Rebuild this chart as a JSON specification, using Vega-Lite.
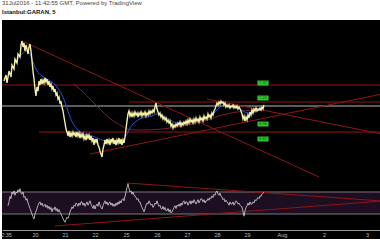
{
  "$schema": "https://vega.github.io/schema/vega-lite/v6.json",
  "background": "white",
  "padding": 0,
  "spacing": 0,
  "title": {
    "text": "31Jul2016 - 11:42:55 GMT, Powered by TradingView",
    "subtitle": "Istanbul:GARAN, 5",
    "anchor": "start",
    "frame": "group",
    "font": "Liberation Sans",
    "fontSize": 6,
    "fontWeight": "normal",
    "color": "#444444",
    "subtitleFont": "Liberation Sans",
    "subtitleFontSize": 6,
    "subtitleFontWeight": "bold",
    "subtitleColor": "#111111",
    "subtitlePadding": 3,
    "offset": 6,
    "dy": 1
  },
  "config": {
    "view": {"stroke": null, "fill": "#000000"},
    "axis": {"grid": false, "ticks": false, "title": null}
  },
  "datasets": {
    "price": [{"t":2,"p":7.39},{"t":4,"p":7.45},{"t":5,"p":7.37},{"t":7,"p":7.49},{"t":9,"p":7.43},{"t":10,"p":7.55},{"t":12,"p":7.51},{"t":13,"p":7.61},{"t":15,"p":7.57},{"t":16,"p":7.66},{"t":18,"p":7.63},{"t":19,"p":7.75},{"t":20,"p":7.79},{"t":21,"p":7.73},{"t":22,"p":7.77},{"t":23,"p":7.69},{"t":24,"p":7.75},{"t":25,"p":7.71},{"t":26,"p":7.66},{"t":27,"p":7.73},{"t":28,"p":7.76},{"t":29,"p":7.69},{"t":30,"p":7.59},{"t":31,"p":7.49},{"t":32,"p":7.41},{"t":33,"p":7.31},{"t":34,"p":7.24},{"t":35,"p":7.33},{"t":36,"p":7.29},{"t":37,"p":7.39},{"t":38,"p":7.35},{"t":39,"p":7.41},{"t":40,"p":7.36},{"t":41,"p":7.40},{"t":42,"p":7.37},{"t":43,"p":7.42},{"t":44,"p":7.38},{"t":45,"p":7.41},{"t":46,"p":7.35},{"t":47,"p":7.39},{"t":48,"p":7.33},{"t":49,"p":7.36},{"t":50,"p":7.31},{"t":51,"p":7.34},{"t":52,"p":7.28},{"t":53,"p":7.31},{"t":54,"p":7.25},{"t":55,"p":7.27},{"t":56,"p":7.21},{"t":57,"p":7.23},{"t":58,"p":7.17},{"t":59,"p":7.18},{"t":60,"p":7.13},{"t":61,"p":7.09},{"t":62,"p":7.03},{"t":63,"p":6.97},{"t":64,"p":6.91},{"t":65,"p":6.88},{"t":66,"p":6.84},{"t":67,"p":6.89},{"t":68,"p":6.83},{"t":69,"p":6.87},{"t":70,"p":6.84},{"t":71,"p":6.88},{"t":72,"p":6.85},{"t":73,"p":6.87},{"t":74,"p":6.83},{"t":75,"p":6.88},{"t":76,"p":6.84},{"t":77,"p":6.87},{"t":78,"p":6.82},{"t":79,"p":6.86},{"t":80,"p":6.83},{"t":81,"p":6.86},{"t":82,"p":6.81},{"t":83,"p":6.84},{"t":84,"p":6.80},{"t":85,"p":6.85},{"t":86,"p":6.82},{"t":87,"p":6.85},{"t":88,"p":6.80},{"t":89,"p":6.84},{"t":90,"p":6.79},{"t":91,"p":6.82},{"t":92,"p":6.75},{"t":93,"p":6.81},{"t":94,"p":6.78},{"t":95,"p":6.81},{"t":96,"p":6.75},{"t":97,"p":6.73},{"t":98,"p":6.69},{"t":99,"p":6.66},{"t":100,"p":6.63},{"t":101,"p":6.71},{"t":102,"p":6.75},{"t":103,"p":6.80},{"t":104,"p":6.76},{"t":105,"p":6.81},{"t":106,"p":6.77},{"t":107,"p":6.80},{"t":108,"p":6.75},{"t":109,"p":6.81},{"t":110,"p":6.78},{"t":111,"p":6.82},{"t":112,"p":6.76},{"t":113,"p":6.80},{"t":114,"p":6.75},{"t":115,"p":6.80},{"t":116,"p":6.77},{"t":117,"p":6.82},{"t":118,"p":6.76},{"t":119,"p":6.81},{"t":120,"p":6.75},{"t":121,"p":6.80},{"t":122,"p":6.77},{"t":123,"p":6.83},{"t":124,"p":6.91},{"t":125,"p":6.99},{"t":126,"p":7.06},{"t":127,"p":7.09},{"t":128,"p":7.04},{"t":129,"p":7.07},{"t":130,"p":7.03},{"t":131,"p":7.07},{"t":132,"p":7.04},{"t":133,"p":7.08},{"t":134,"p":7.05},{"t":135,"p":7.07},{"t":136,"p":7.03},{"t":137,"p":7.07},{"t":138,"p":7.05},{"t":139,"p":7.08},{"t":140,"p":7.04},{"t":141,"p":7.07},{"t":142,"p":7.05},{"t":143,"p":7.08},{"t":144,"p":7.04},{"t":145,"p":7.07},{"t":146,"p":7.05},{"t":147,"p":7.09},{"t":148,"p":7.06},{"t":149,"p":7.09},{"t":150,"p":7.07},{"t":151,"p":7.10},{"t":152,"p":7.08},{"t":153,"p":7.13},{"t":154,"p":7.17},{"t":155,"p":7.11},{"t":156,"p":7.08},{"t":157,"p":7.05},{"t":158,"p":7.07},{"t":159,"p":7.03},{"t":160,"p":7.05},{"t":161,"p":7.01},{"t":162,"p":7.03},{"t":163,"p":7.00},{"t":164,"p":7.02},{"t":165,"p":6.98},{"t":166,"p":7.00},{"t":167,"p":6.97},{"t":168,"p":6.99},{"t":169,"p":6.94},{"t":170,"p":6.96},{"t":171,"p":6.92},{"t":172,"p":6.95},{"t":173,"p":6.93},{"t":174,"p":6.96},{"t":175,"p":6.94},{"t":176,"p":6.97},{"t":177,"p":6.95},{"t":178,"p":6.98},{"t":179,"p":6.94},{"t":180,"p":6.97},{"t":181,"p":6.95},{"t":182,"p":6.98},{"t":183,"p":6.96},{"t":184,"p":6.99},{"t":185,"p":6.96},{"t":186,"p":7.00},{"t":187,"p":6.97},{"t":188,"p":7.01},{"t":189,"p":6.98},{"t":190,"p":7.00},{"t":191,"p":6.97},{"t":192,"p":7.01},{"t":193,"p":6.98},{"t":194,"p":7.02},{"t":195,"p":6.99},{"t":196,"p":7.01},{"t":197,"p":6.98},{"t":198,"p":7.03},{"t":199,"p":7.00},{"t":200,"p":7.02},{"t":201,"p":6.99},{"t":202,"p":7.04},{"t":203,"p":7.01},{"t":204,"p":7.03},{"t":205,"p":7.01},{"t":206,"p":7.06},{"t":207,"p":7.03},{"t":208,"p":7.05},{"t":209,"p":7.02},{"t":210,"p":7.07},{"t":211,"p":7.05},{"t":212,"p":7.09},{"t":213,"p":7.11},{"t":214,"p":7.14},{"t":215,"p":7.17},{"t":216,"p":7.15},{"t":217,"p":7.18},{"t":218,"p":7.16},{"t":219,"p":7.19},{"t":220,"p":7.17},{"t":221,"p":7.18},{"t":222,"p":7.15},{"t":223,"p":7.17},{"t":224,"p":7.13},{"t":225,"p":7.15},{"t":226,"p":7.13},{"t":227,"p":7.15},{"t":228,"p":7.12},{"t":229,"p":7.14},{"t":230,"p":7.13},{"t":231,"p":7.15},{"t":232,"p":7.12},{"t":233,"p":7.14},{"t":234,"p":7.12},{"t":235,"p":7.14},{"t":236,"p":7.11},{"t":237,"p":7.13},{"t":238,"p":7.11},{"t":239,"p":7.09},{"t":240,"p":7.06},{"t":241,"p":7.01},{"t":242,"p":7.04},{"t":243,"p":6.99},{"t":244,"p":7.03},{"t":245,"p":7.00},{"t":246,"p":7.05},{"t":247,"p":7.02},{"t":248,"p":7.08},{"t":249,"p":7.05},{"t":250,"p":7.10},{"t":251,"p":7.07},{"t":252,"p":7.11},{"t":253,"p":7.09},{"t":254,"p":7.12},{"t":255,"p":7.09},{"t":256,"p":7.11},{"t":257,"p":7.10},{"t":258,"p":7.12},{"t":259,"p":7.10},{"t":260,"p":7.13},{"t":261,"p":7.11},{"t":262,"p":7.15}],
    "ma": [{"t":12,"p":7.55},{"t":16,"p":7.61},{"t":20,"p":7.66},{"t":25,"p":7.69},{"t":28,"p":7.66},{"t":31,"p":7.58},{"t":35,"p":7.49},{"t":40,"p":7.44},{"t":45,"p":7.41},{"t":50,"p":7.38},{"t":55,"p":7.33},{"t":60,"p":7.25},{"t":64,"p":7.15},{"t":68,"p":7.03},{"t":72,"p":6.95},{"t":76,"p":6.90},{"t":80,"p":6.87},{"t":85,"p":6.85},{"t":90,"p":6.84},{"t":95,"p":6.82},{"t":100,"p":6.80},{"t":105,"p":6.79},{"t":110,"p":6.79},{"t":115,"p":6.79},{"t":120,"p":6.80},{"t":124,"p":6.84},{"t":128,"p":6.92},{"t":132,"p":6.97},{"t":136,"p":7.00},{"t":140,"p":7.02},{"t":145,"p":7.03},{"t":150,"p":7.04},{"t":155,"p":7.06},{"t":160,"p":7.05},{"t":165,"p":7.02},{"t":170,"p":6.99},{"t":175,"p":6.97},{"t":180,"p":6.97},{"t":185,"p":6.98},{"t":190,"p":6.99},{"t":195,"p":7.00},{"t":200,"p":7.01},{"t":205,"p":7.02},{"t":210,"p":7.05},{"t":214,"p":7.09},{"t":218,"p":7.13},{"t":222,"p":7.15},{"t":226,"p":7.15},{"t":230,"p":7.14},{"t":235,"p":7.13},{"t":240,"p":7.10},{"t":245,"p":7.07},{"t":250,"p":7.07},{"t":255,"p":7.09},{"t":260,"p":7.10}],
    "ma2": [{"t":72,"p":7.36},{"t":80,"p":7.29},{"t":90,"p":7.19},{"t":100,"p":7.09},{"t":110,"p":7.00},{"t":120,"p":6.94},{"t":125,"p":6.91},{"t":135,"p":6.90},{"t":145,"p":6.90},{"t":160,"p":6.91},{"t":175,"p":6.93},{"t":190,"p":6.96},{"t":205,"p":7.00},{"t":220,"p":7.05},{"t":235,"p":7.08},{"t":250,"p":7.10},{"t":260,"p":7.11}],
    "redlines": [{"t":0,"p":7.35,"t2":380,"p2":7.35},{"t":127,"p":7.18,"t2":380,"p2":7.18},{"t":37,"p":6.88,"t2":380,"p2":6.88},{"t":20,"p":7.79,"t2":317,"p2":6.43},{"t":88,"p":6.66,"t2":380,"p2":7.26},{"t":205,"p":7.21,"t2":380,"p2":6.86}],
    "greyline": [{"t":0,"p":7.14,"t2":380,"p2":7.14}],
    "levels": [{"t":261,"p":7.37,"label":"7.37"},{"t":261,"p":7.22,"label":"7.22"},{"t":261,"p":6.96,"label":"6.96"},{"t":261,"p":6.81,"label":"6.81"}],
    "rsi": [{"t":6,"r":45},{"t":7,"r":52},{"t":8,"r":62},{"t":9,"r":58},{"t":10,"r":70},{"t":11,"r":66},{"t":12,"r":72},{"t":13,"r":64},{"t":14,"r":70},{"t":15,"r":68},{"t":16,"r":74},{"t":17,"r":70},{"t":18,"r":76},{"t":19,"r":68},{"t":20,"r":66},{"t":21,"r":70},{"t":22,"r":60},{"t":23,"r":62},{"t":24,"r":55},{"t":25,"r":58},{"t":26,"r":50},{"t":27,"r":45},{"t":28,"r":40},{"t":29,"r":35},{"t":30,"r":30},{"t":31,"r":25},{"t":32,"r":21},{"t":33,"r":30},{"t":34,"r":35},{"t":35,"r":40},{"t":36,"r":46},{"t":37,"r":50},{"t":38,"r":52},{"t":39,"r":46},{"t":40,"r":50},{"t":41,"r":44},{"t":42,"r":45},{"t":43,"r":48},{"t":44,"r":42},{"t":45,"r":46},{"t":46,"r":40},{"t":47,"r":44},{"t":48,"r":38},{"t":49,"r":42},{"t":50,"r":34},{"t":51,"r":40},{"t":52,"r":38},{"t":53,"r":43},{"t":54,"r":36},{"t":55,"r":40},{"t":56,"r":34},{"t":57,"r":38},{"t":58,"r":33},{"t":59,"r":30},{"t":60,"r":26},{"t":61,"r":22},{"t":62,"r":18},{"t":63,"r":15},{"t":64,"r":20},{"t":65,"r":24},{"t":66,"r":22},{"t":67,"r":27},{"t":68,"r":34},{"t":69,"r":38},{"t":70,"r":43},{"t":71,"r":40},{"t":72,"r":46},{"t":73,"r":44},{"t":74,"r":50},{"t":75,"r":48},{"t":76,"r":44},{"t":77,"r":50},{"t":78,"r":46},{"t":79,"r":52},{"t":80,"r":52},{"t":81,"r":46},{"t":82,"r":50},{"t":83,"r":44},{"t":84,"r":48},{"t":85,"r":52},{"t":86,"r":46},{"t":87,"r":50},{"t":88,"r":54},{"t":89,"r":48},{"t":90,"r":44},{"t":91,"r":40},{"t":92,"r":46},{"t":93,"r":39},{"t":94,"r":45},{"t":95,"r":48},{"t":96,"r":44},{"t":97,"r":52},{"t":98,"r":46},{"t":99,"r":42},{"t":100,"r":39},{"t":101,"r":45},{"t":102,"r":50},{"t":103,"r":54},{"t":104,"r":48},{"t":105,"r":52},{"t":106,"r":46},{"t":107,"r":50},{"t":108,"r":52},{"t":109,"r":46},{"t":110,"r":50},{"t":111,"r":44},{"t":112,"r":48},{"t":113,"r":44},{"t":114,"r":50},{"t":115,"r":46},{"t":116,"r":52},{"t":117,"r":48},{"t":118,"r":54},{"t":119,"r":50},{"t":120,"r":56},{"t":121,"r":58},{"t":122,"r":54},{"t":123,"r":62},{"t":124,"r":70},{"t":125,"r":78},{"t":126,"r":85},{"t":127,"r":76},{"t":128,"r":70},{"t":129,"r":72},{"t":130,"r":66},{"t":131,"r":70},{"t":132,"r":64},{"t":133,"r":63},{"t":134,"r":60},{"t":135,"r":56},{"t":136,"r":58},{"t":137,"r":52},{"t":138,"r":52},{"t":139,"r":46},{"t":140,"r":42},{"t":141,"r":38},{"t":142,"r":34},{"t":143,"r":40},{"t":144,"r":46},{"t":145,"r":50},{"t":146,"r":48},{"t":147,"r":54},{"t":148,"r":50},{"t":149,"r":46},{"t":150,"r":48},{"t":151,"r":42},{"t":152,"r":45},{"t":153,"r":50},{"t":154,"r":48},{"t":155,"r":54},{"t":156,"r":48},{"t":157,"r":44},{"t":158,"r":46},{"t":159,"r":40},{"t":160,"r":39},{"t":161,"r":44},{"t":162,"r":38},{"t":163,"r":42},{"t":164,"r":36},{"t":165,"r":36},{"t":166,"r":40},{"t":167,"r":34},{"t":168,"r":38},{"t":169,"r":32},{"t":170,"r":34},{"t":171,"r":38},{"t":172,"r":42},{"t":173,"r":45},{"t":174,"r":40},{"t":175,"r":46},{"t":176,"r":44},{"t":177,"r":48},{"t":178,"r":44},{"t":179,"r":50},{"t":180,"r":46},{"t":181,"r":52},{"t":182,"r":54},{"t":183,"r":48},{"t":184,"r":52},{"t":185,"r":52},{"t":186,"r":46},{"t":187,"r":50},{"t":188,"r":54},{"t":189,"r":48},{"t":190,"r":54},{"t":191,"r":50},{"t":192,"r":56},{"t":193,"r":52},{"t":194,"r":48},{"t":195,"r":52},{"t":196,"r":56},{"t":197,"r":50},{"t":198,"r":54},{"t":199,"r":58},{"t":200,"r":57},{"t":201,"r":52},{"t":202,"r":56},{"t":203,"r":50},{"t":204,"r":54},{"t":205,"r":54},{"t":206,"r":58},{"t":207,"r":55},{"t":208,"r":60},{"t":209,"r":58},{"t":210,"r":63},{"t":211,"r":60},{"t":212,"r":66},{"t":213,"r":64},{"t":214,"r":70},{"t":215,"r":72},{"t":216,"r":66},{"t":217,"r":64},{"t":218,"r":68},{"t":219,"r":62},{"t":220,"r":61},{"t":221,"r":56},{"t":222,"r":58},{"t":223,"r":52},{"t":224,"r":55},{"t":225,"r":52},{"t":226,"r":50},{"t":227,"r":46},{"t":228,"r":52},{"t":229,"r":48},{"t":230,"r":48},{"t":231,"r":52},{"t":232,"r":46},{"t":233,"r":50},{"t":234,"r":54},{"t":235,"r":52},{"t":236,"r":48},{"t":237,"r":50},{"t":238,"r":46},{"t":239,"r":44},{"t":240,"r":43},{"t":241,"r":34},{"t":242,"r":26},{"t":243,"r":36},{"t":244,"r":42},{"t":245,"r":45},{"t":246,"r":50},{"t":247,"r":46},{"t":248,"r":52},{"t":249,"r":48},{"t":250,"r":48},{"t":251,"r":52},{"t":252,"r":50},{"t":253,"r":56},{"t":254,"r":54},{"t":255,"r":57},{"t":256,"r":60},{"t":257,"r":58},{"t":258,"r":63},{"t":259,"r":62},{"t":260,"r":66},{"t":261,"r":68},{"t":262,"r":70}],
    "rsiband": [{"t":0,"t2":380,"lo":30,"hi":70}],
    "rsilevels": [{"r":70},{"r":30}],
    "rsilines": [{"t":125,"r":86.4,"t2":380,"r2":53.6},{"t":53,"r":8.2,"t2":380,"r2":53.6}]
  },
  "vconcat": [
    {
      "width": 380,
      "height": 158,
      "encoding": {
        "x": {"field": "t", "type": "quantitative", "scale": {"domain": [0, 380], "nice": false, "zero": false}, "axis": {"orient": "bottom", "labels": false, "domainColor": "#9a9a9a", "domainWidth": 1}},
        "y": {"field": "p", "type": "quantitative", "scale": {"domain": [6.42, 8.0], "nice": false, "zero": false}, "axis": null}
      },
      "layer": [
        {"data": {"name": "greyline"}, "mark": {"type": "rule", "color": "#b8b8b8", "strokeWidth": 1}, "encoding": {"x2": {"field": "t2"}, "y2": {"field": "p2"}}},
        {"data": {"name": "redlines"}, "mark": {"type": "rule", "color": "#8e1616", "strokeWidth": 1}, "encoding": {"x2": {"field": "t2"}, "y2": {"field": "p2"}}},
        {"data": {"name": "ma2"}, "mark": {"type": "line", "color": "#7a1f3a", "strokeWidth": 1, "interpolate": "monotone"}},
        {"data": {"name": "ma"}, "mark": {"type": "line", "color": "#2f4fd8", "strokeWidth": 1, "interpolate": "monotone"}},
        {"data": {"name": "price"}, "mark": {"type": "line", "color": "#f4efa6", "strokeWidth": 1.4}},
        {"data": {"name": "levels"}, "mark": {"type": "point", "shape": "M-1,-0.45L1,-0.45L1,0.45L-1,0.45Z", "size": 121, "filled": true, "color": "#2ecc2e", "opacity": 1}},
        {"data": {"name": "levels"}, "mark": {"type": "text", "fontSize": 4, "color": "#063a06", "align": "center", "baseline": "middle", "font": "Liberation Sans"}, "encoding": {"text": {"field": "label"}}}
      ]
    },
    {
      "width": 380,
      "height": 61,
      "encoding": {
        "x": {"field": "t", "type": "quantitative", "scale": {"domain": [0, 380], "nice": false, "zero": false},
          "axis": {"orient": "bottom", "offset": -9, "domainColor": "#9a9a9a", "labelColor": "#bdbdbd", "labelFontSize": 5.5, "labelFont": "Liberation Sans", "labelPadding": 2, "labelFlush": false, "labelOverlap": false,
            "values": [4, 33, 63, 93, 124, 155, 185, 215, 245, 280, 322, 365],
            "labelExpr": "['2:35','20','21','22','25','26','27','28','29','Aug','2','3'][indexof([4, 33, 63, 93, 124, 155, 185, 215, 245, 280, 322, 365], datum.value)]"}},
        "y": {"field": "r", "type": "quantitative", "scale": {"domain": [-15.45, 95.45], "nice": false, "zero": false}, "axis": null}
      },
      "layer": [
        {"data": {"name": "rsiband"}, "mark": {"type": "rect", "color": "#1d0e22"}, "encoding": {"x2": {"field": "t2"}, "y": {"field": "lo", "type": "quantitative"}, "y2": {"field": "hi"}}},
        {"data": {"name": "rsilevels"}, "mark": {"type": "rule", "color": "#7a7a7a", "strokeWidth": 1}, "encoding": {"x": null}},
        {"data": {"name": "rsilines"}, "mark": {"type": "rule", "color": "#8e1616", "strokeWidth": 1}, "encoding": {"x2": {"field": "t2"}, "y2": {"field": "r2"}}},
        {"data": {"name": "rsi"}, "mark": {"type": "line", "color": "#d6d6d6", "strokeWidth": 0.8}}
      ]
    }
  ]
}
